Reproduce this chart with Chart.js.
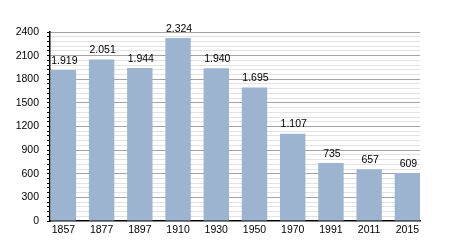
<!DOCTYPE html>
<html>
<head>
<meta charset="utf-8">
<script src="https://cdn.jsdelivr.net/npm/chart.js@4"></script>
<style>
  html, body { margin: 0; padding: 0; background: #fff; }
  #wrap { width: 450px; height: 250px; }
</style>
</head>
<body>
<div id="wrap"><canvas id="popChart"></canvas></div>
<script>
// Einwohnerentwicklung
var years = ['1857', '1877', '1897', '1910', '1930', '1950', '1970', '1991', '2011', '2015'];
var population = [1919, 2051, 1944, 2324, 1940, 1695, 1107, 735, 657, 609];
var yMax = 2400;
var yMajorStep = 300;
var yMinorStep = 60;

function fmt(v) {
    return String(v).replace(/\B(?=(\d{3})+(?!\d))/g, '.');
}

// Werte über den Balken
var valueLabels = {
    id: 'valueLabels',
    afterDatasetsDraw: function(chart) {
        var ctx = chart.ctx;
        var meta = chart.getDatasetMeta(0);
        ctx.save();
        ctx.font = '10.5px "Liberation Sans", Arial, sans-serif';
        ctx.fillStyle = '#000';
        ctx.textAlign = 'center';
        ctx.textBaseline = 'bottom';
        meta.data.forEach(function(bar, i) {
            ctx.fillText(fmt(population[i]), bar.x + 1, bar.y - 4);
        });
        ctx.restore();
    }
};

// Balken als Index auf linearer Achse, damit sie bis an den Rand gehen
var points = population.map(function(v, i) { return { x: i, y: v }; });

var ctx = document.getElementById('popChart').getContext('2d');
new Chart(ctx, {
    type: 'bar',
    data: {
        datasets: [{
            data: points,
            backgroundColor: '#9cb4d0',
            categoryPercentage: 0.665,
            barPercentage: 1.0
        }]
    },
    options: {
        responsive: true,
        maintainAspectRatio: false,
        animation: false,
        layout: { padding: { top: 32, right: 30, left: 0, bottom: 0 } },
        plugins: {
            legend: { display: false },
            tooltip: { enabled: false }
        },
        scales: {
            x: {
                type: 'linear',
                min: -0.35,
                max: 9.33,
                offset: false,
                grid: { display: false, drawTicks: false },
                border: { color: '#000', width: 1.5 },
                afterBuildTicks: function(scale) {
                    scale.ticks = years.map(function(y, i) { return { value: i }; });
                },
                ticks: {
                    color: '#000',
                    font: { family: '"Liberation Sans", Arial, sans-serif', size: 10.5 },
                    padding: 3,
                    maxRotation: 0,
                    autoSkip: false,
                    callback: function(v) { return years[v]; }
                },
                afterFit: function(scale) { scale.height = 29; }
            },
            y: {
                min: 0,
                max: yMax,
                grid: {
                    color: function(c) {
                        if (c.tick.value === 0) return 'rgba(0,0,0,0)';
                        return c.tick.value % yMajorStep === 0 ? '#a4a4a4' : '#e2e2e2';
                    },
                    tickColor: '#000',
                    tickLength: 3,
                    lineWidth: 1
                },
                border: { color: '#000', width: 1.5 },
                ticks: {
                    stepSize: yMinorStep,
                    autoSkip: false,
                    color: '#000',
                    font: { family: '"Liberation Sans", Arial, sans-serif', size: 10.5 },
                    padding: 8,
                    callback: function(v) {
                        return v % yMajorStep === 0 ? String(v) : '';
                    }
                },
                afterFit: function(scale) { scale.width = 50; }
            }
        }
    },
    plugins: [valueLabels]
});
</script>
</body>
</html>
